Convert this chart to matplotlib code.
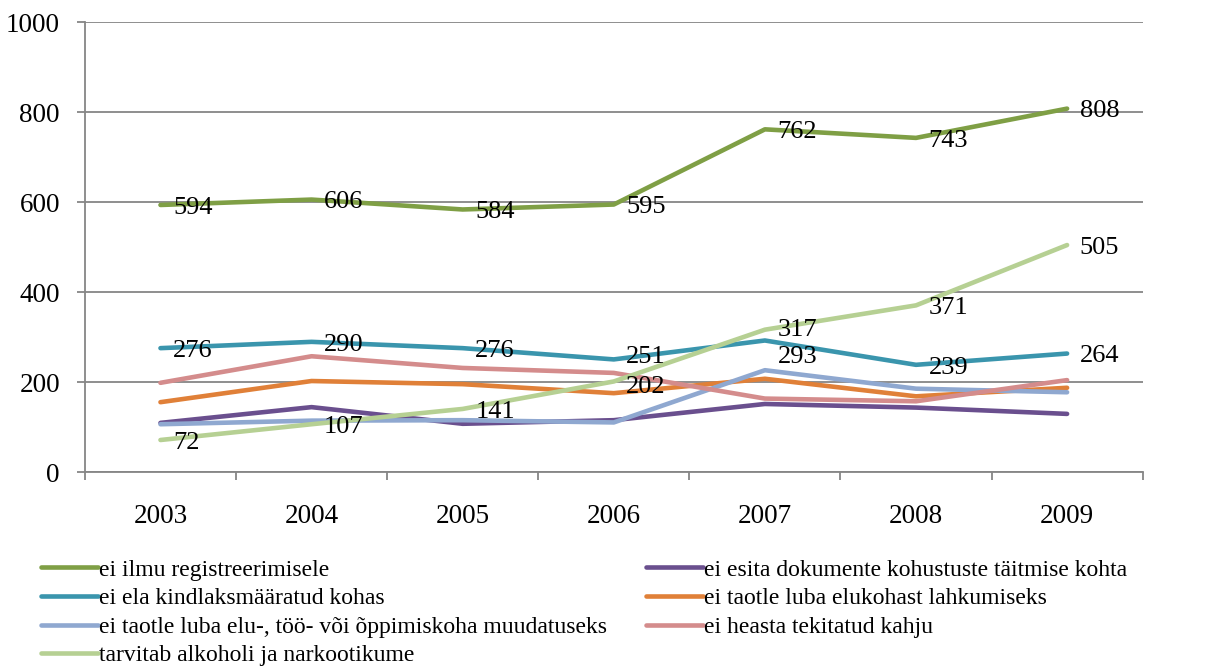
import matplotlib.pyplot as plt
from matplotlib.ticker import FixedLocator

# Data
years = ["2003", "2004", "2005", "2006", "2007", "2008", "2009"]
ilmu = [594, 606, 584, 595, 762, 743, 808]
dokumente = [110, 145, 108, 116, 152, 144, 130]
kindlaks = [276, 290, 276, 251, 293, 239, 264]
elukohast = [156, 203, 196, 176, 208, 169, 188]
muudatus = [107, 115, 116, 111, 227, 186, 178]
kahju = [199, 258, 232, 221, 164, 158, 205]
alkohol = [72, 107, 141, 202, 317, 371, 505]

series = [
    ("ei ilmu registreerimisele", ilmu, "#7F9F45", True),
    ("ei esita dokumente kohustuste täitmise kohta", dokumente, "#6A4F8E", False),
    ("ei ela kindlaksmääratud kohas", kindlaks, "#3A95AD", True),
    ("ei taotle luba elukohast lahkumiseks", elukohast, "#E08038", False),
    ("ei taotle luba elu-, töö- või õppimiskoha muudatuseks", muudatus, "#8FA8D0", False),
    ("ei heasta tekitatud kahju", kahju, "#D48C8C", False),
    ("tarvitab alkoholi ja narkootikume", alkohol, "#B6D093", True),
]

# label nudges (points) where labels crowd each other at 2006 / 2007
nudge = {(3, 251): 2, (3, 202): -4, (4, 317): 0, (4, 293): -12}

plt.rcParams["font.family"] = ["Liberation Serif", "DejaVu Serif"]

fig = plt.figure(figsize=(12.13, 6.72), dpi=100)
ax = fig.add_axes([0.070, 0.297, 0.872, 0.670])

x = list(range(len(years)))
handles = []
for name, vals, color, labelled in series:
    h, = ax.plot(x, vals, color=color, lw=3.3, solid_capstyle="round", label=name)
    handles.append(h)
    if labelled:
        for xi, v in zip(x, vals):
            dy = nudge.get((xi, v), -2)
            ax.annotate(str(v), (xi, v), xytext=(9, dy), textcoords="offset points",
                        ha="left", va="center", fontsize=19, color="black")

grid_col = "#868686"
ax.set_xlim(-0.5, 6.5)
ax.set_ylim(0, 1000)
ax.set_yticks(range(0, 1001, 200))
ax.yaxis.grid(True, color=grid_col, lw=1.3)
ax.set_axisbelow(True)

ax.set_xticks(x)
ax.set_xticklabels(years)
ax.xaxis.set_minor_locator(FixedLocator([i - 0.5 for i in range(8)]))
ax.tick_params(axis="x", which="major", length=0, pad=23, labelsize=19.5)
ax.tick_params(axis="x", which="minor", length=6, color=grid_col, width=1.3)
ax.tick_params(axis="y", length=6, color=grid_col, width=1.3, pad=12, labelsize=19.5)

for s in ["top", "right"]:
    ax.spines[s].set_visible(False)
for s in ["left", "bottom"]:
    ax.spines[s].set_color(grid_col)
    ax.spines[s].set_linewidth(1.3)

# Legend: row-major order in the reference, matplotlib fills column-major
order = [0, 2, 4, 6, 1, 3, 5]
fig.legend([handles[i] for i in order], [series[i][0] for i in order],
           ncol=2, loc="upper left", bbox_to_anchor=(0.034, 0.168),
           frameon=False, fontsize=17, handlelength=2.4, handletextpad=0.05,
           columnspacing=1.65, labelspacing=0.3, borderaxespad=0, borderpad=0)

fig.savefig("out.png", dpi=100)
